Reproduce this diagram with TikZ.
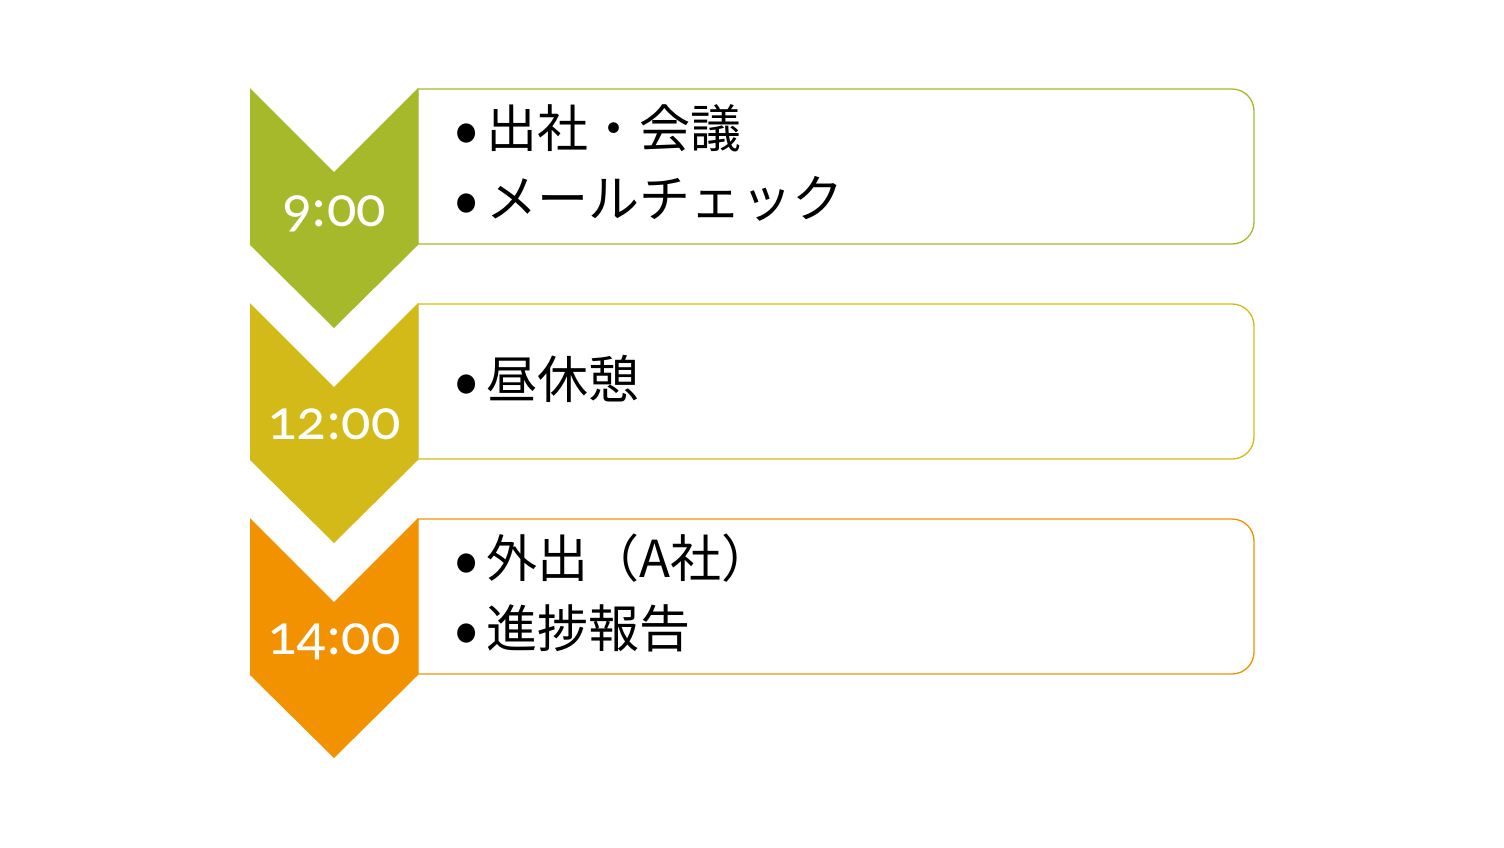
\documentclass[tikz,border=0pt]{standalone}
\usepackage{fontspec}
\newfontfamily\jp{Noto Sans CJK JP}
\newfontfamily\tm[Numbers=OldStyle]{Carlito}
\definecolor{cgreen}{RGB}{166,185,43}
\definecolor{cgold}{RGB}{212,186,24}
\definecolor{corange}{RGB}{243,146,0}
\tikzset{
  chev/.style={fill=#1, draw=none},
  panel/.style={draw=#1, line width=1.3pt, fill=white},
  timelbl/.style={text=white, font=\tm\fontsize{58}{60}\selectfont, anchor=base, inner sep=0pt},
  itemtxt/.style={font=\jp\fontsize{51}{54}\selectfont, anchor=base west, inner sep=0pt},
}
\newcommand{\bul}{\raisebox{-0.15em}{\scalebox{1.4}{•}}\hspace{0.16em}}
\begin{document}
\begin{tikzpicture}[x=1pt,y=-1pt]
\useasboundingbox (0,0) rectangle (1504,847);
% panels
\draw[panel=cgreen] (418,89) -- (1232,89) arc[start angle=-90,end angle=0,radius=22] -- (1254,222) arc[start angle=0,end angle=90,radius=22] -- (418,244) -- cycle;
\draw[panel=cgold] (418,304) -- (1232,304) arc[start angle=-90,end angle=0,radius=22] -- (1254,437) arc[start angle=0,end angle=90,radius=22] -- (418,459) -- cycle;
\draw[panel=corange] (418,519) -- (1232,519) arc[start angle=-90,end angle=0,radius=22] -- (1254,652) arc[start angle=0,end angle=90,radius=22] -- (418,674) -- cycle;
% chevrons
\fill[chev=cgreen] (250,88) -- (334,172) -- (418,88) -- (418,245) -- (334,328) -- (250,245) -- cycle;
\fill[chev=cgold] (250,303) -- (334,387) -- (418,303) -- (418,460) -- (334,543) -- (250,460) -- cycle;
\fill[chev=corange] (250,518) -- (334,602) -- (418,518) -- (418,675) -- (334,758) -- (250,675) -- cycle;
% time labels
\node[timelbl] (t1) at (334,226) {9:00};
\node[timelbl] (t2) at (334,439) {12:00};
\node[timelbl] (t3) at (334,654) {14:00};
% items
\node[itemtxt] (a1) at (454,147) {\bul 出社・会議};
\node[itemtxt] (a2) at (454,217) {\bul メールチェック};
\node[itemtxt] (b1) at (454,398) {\bul 昼休憩};
\node[itemtxt] (c1) at (454,577) {\bul 外出（A社）};
\node[itemtxt] (c2) at (454,647) {\bul 進捗報告};
\end{tikzpicture}
\end{document}
